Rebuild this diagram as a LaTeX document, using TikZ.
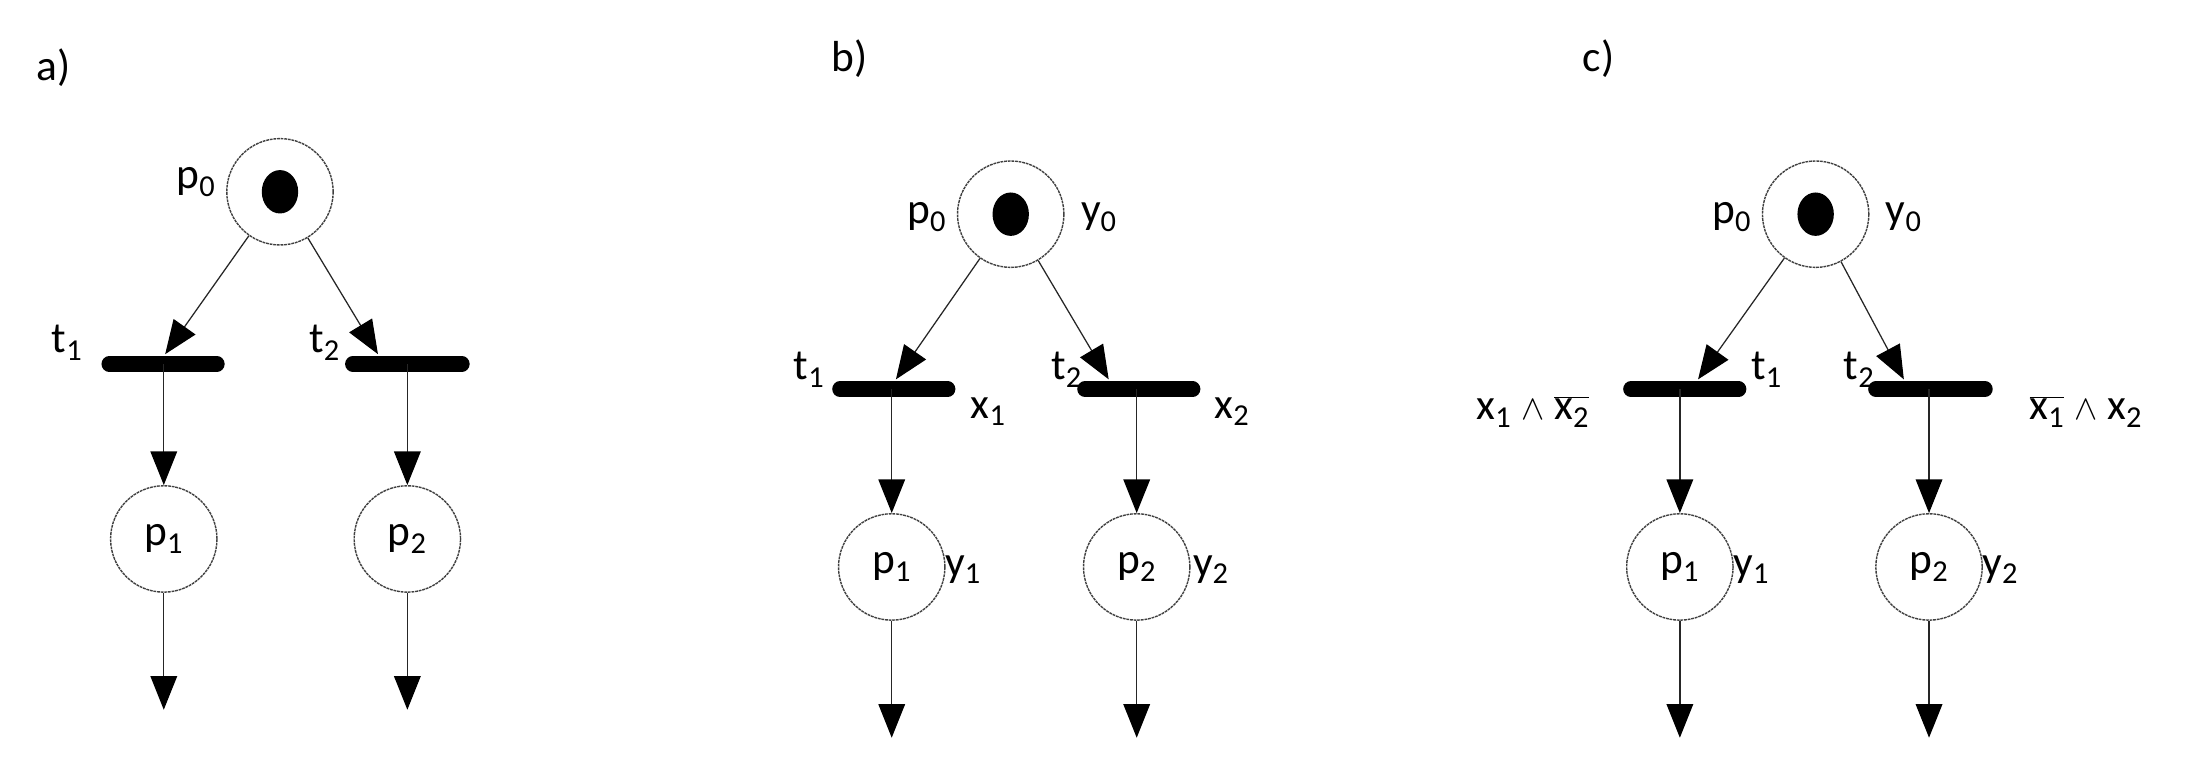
\documentclass[tikz,border=0pt]{standalone}
\usepackage{fontspec}
\setmainfont{Carlito}
\usetikzlibrary{arrows.meta,shapes.geometric}
\newcommand{\sbs}[1]{\textsubscript{#1}}
\newcommand{\ovl}[1]{\mbox{$\overline{\hbox{#1}}$}}
\begin{document}
\begin{tikzpicture}[x=1pt,y=-1pt,
  place/.style={circle,draw=black!75,dash pattern=on 2pt off 0.6pt,line width=1pt,minimum size=76pt,inner sep=0pt},
  tok/.style={ellipse,fill=black,minimum width=26pt,minimum height=31pt,inner sep=0pt},
  bar/.style={line width=11pt,line cap=round},
  arc/.style={draw=black!85,line width=0.9pt,-{Triangle[length=24pt,width=19pt,color=black]}},
  lab/.style={font=\fontsize{31}{33}\selectfont,inner sep=0pt}]
\useasboundingbox (0,0) rectangle (1568,551);
% ---------- panel a
\node[lab] (la) at (38,48) {a)};
\node[place] (a0) at (200,137) {};
\node[tok] (a0t) at (200,137) {};
\node[lab] (a0l) at (140,130) {p\sbs{0}};
\coordinate (a1l) at (78,260); \coordinate (a1r) at (155,260); \coordinate (a1c) at (117,260);
\coordinate (a2l) at (252,260); \coordinate (a2r) at (330,260); \coordinate (a2c) at (291,260);
\draw[bar] (a1l) -- (a1r); \draw[bar] (a2l) -- (a2r);
\node[lab] (a1n) at (48,245) {t\sbs{1}};
\node[lab] (a2n) at (232,245) {t\sbs{2}};
\coordinate (a1in) at (118,253); \coordinate (a2in) at (270,253);
\draw[arc] (a0) -- (a1in); \draw[arc] (a0) -- (a2in);
\node[place] (a1) at (117,385) {};
\node[place] (a2) at (291,385) {};
\path (a1.center) node[lab]{p\sbs{1}}; \path (a2.center) node[lab]{p\sbs{2}};
\draw[arc] (a1c) -- (a1); \draw[arc] (a2c) -- (a2);
\coordinate (a1o) at (117,507); \coordinate (a2o) at (291,507);
\draw[arc] (a1) -- (a1o); \draw[arc] (a2) -- (a2o);
% ---------- panel b
\node[lab] (lb) at (607,42) {b)};
\node[place] (b0) at (722,153) {};
\node[tok] (b0t) at (722,153) {};
\node[lab] (b0l) at (662,155) {p\sbs{0}};
\node[lab] (b0r) at (785,155) {y\sbs{0}};
\coordinate (b1l) at (600,278); \coordinate (b1r) at (677,278); \coordinate (b1c) at (637,278);
\coordinate (b2l) at (775,278); \coordinate (b2r) at (852,278); \coordinate (b2c) at (812,278);
\draw[bar] (b1l) -- (b1r); \draw[bar] (b2l) -- (b2r);
\node[lab] (b1n) at (578,264) {t\sbs{1}};
\node[lab] (b2n) at (762,264) {t\sbs{2}};
\node[lab] (b1x) at (706,294) {x\sbs{1}};
\node[lab] (b2x) at (880,294) {x\sbs{2}};
\coordinate (b1in) at (640,271); \coordinate (b2in) at (792,271);
\draw[arc] (b0) -- (b1in); \draw[arc] (b0) -- (b2in);
\node[place] (b1) at (637,405) {};
\node[place] (b2) at (812,405) {};
\path (b1.center) node[lab]{p\sbs{1}}; \path (b2.center) node[lab]{p\sbs{2}};
\node[lab] (b1y) at (688,407) {y\sbs{1}};
\node[lab] (b2y) at (865,407) {y\sbs{2}};
\draw[arc] (b1c) -- (b1); \draw[arc] (b2c) -- (b2);
\coordinate (b1o) at (637,527); \coordinate (b2o) at (812,527);
\draw[arc] (b1) -- (b1o); \draw[arc] (b2) -- (b2o);
% ---------- panel c
\node[lab] (lc) at (1142,42) {c)};
\node[place] (c0) at (1297,153) {};
\node[tok] (c0t) at (1297,153) {};
\node[lab] (c0l) at (1237,155) {p\sbs{0}};
\node[lab] (c0r) at (1360,155) {y\sbs{0}};
\coordinate (c1l) at (1165,278); \coordinate (c1r) at (1242,278); \coordinate (c1c) at (1200,278);
\coordinate (c2l) at (1340,278); \coordinate (c2r) at (1418,278); \coordinate (c2c) at (1378,278);
\draw[bar] (c1l) -- (c1r); \draw[bar] (c2l) -- (c2r);
\node[lab] (c1n) at (1262,264) {t\sbs{1}};
\node[lab] (c2n) at (1328,264) {t\sbs{2}};
\node[lab] (c1x) at (1095,294) {x\sbs{1} $\wedge$ \ovl{x\sbs{2}}};
\node[lab] (c2x) at (1490,294) {\ovl{x\sbs{1}} $\wedge$\ x\sbs{2}};
\coordinate (c1in) at (1213,271); \coordinate (c2in) at (1360,271);
\draw[arc] (c0) -- (c1in); \draw[arc] (c0) -- (c2in);
\node[place] (c1) at (1200,405) {};
\node[place] (c2) at (1378,405) {};
\path (c1.center) node[lab]{p\sbs{1}}; \path (c2.center) node[lab]{p\sbs{2}};
\node[lab] (c1y) at (1251,407) {y\sbs{1}};
\node[lab] (c2y) at (1429,407) {y\sbs{2}};
\draw[arc] (c1c) -- (c1); \draw[arc] (c2c) -- (c2);
\coordinate (c1o) at (1200,527); \coordinate (c2o) at (1378,527);
\draw[arc] (c1) -- (c1o); \draw[arc] (c2) -- (c2o);
\end{tikzpicture}
\end{document}
